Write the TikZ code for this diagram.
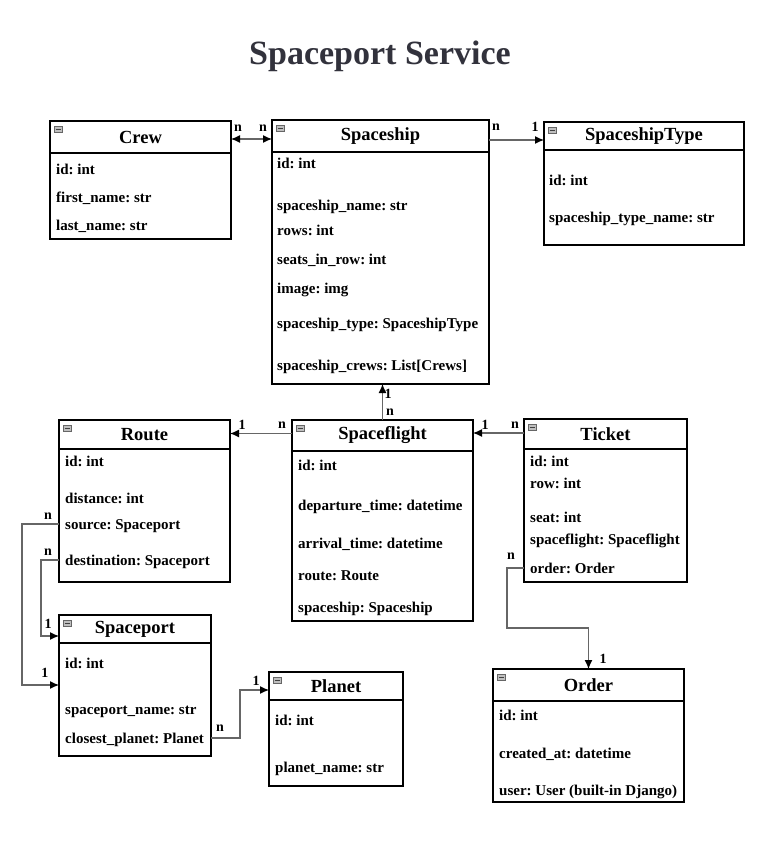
\documentclass[tikz,border=0pt]{standalone}
\usepackage{fontspec}
\setmainfont{Liberation Serif}
\usetikzlibrary{arrows.meta}
\definecolor{titlegray}{RGB}{50,50,60}
\frenchspacing

\begin{document}
\begin{tikzpicture}[x=1pt,y=-1pt]

  \tikzstyle{hdr} = [draw,fill=white,inner sep=0pt,outer sep=0pt,font=\fontsize{18.5}{20}\selectfont\bfseries]
  \tikzstyle{body} = [draw,inner sep=0pt,outer sep=0pt]
  \tikzstyle{fld} = [anchor=base west,inner sep=0pt,font=\fontsize{15}{17}\selectfont\bfseries]
  \tikzstyle{card} = [inner sep=0pt,font=\fontsize{14}{16}\selectfont\bfseries]
  \tikzstyle{icon} = [draw=black!60,fill=black!25,line width=0.5pt,minimum width=8pt,minimum height=6pt,inner sep=0pt,
    path picture={\draw[black!75,line width=1pt] (path picture bounding box.west) ++(1.5pt,0) -- ++(5pt,0);}]
  \tikzstyle{conn} = [draw=black!60,line width=1.2pt,>={Latex[length=9pt,width=8pt,color=black]},->]

  \useasboundingbox (0,0) rectangle (780,841);

  \node[font=\fontsize{34}{40}\selectfont\bfseries,text=titlegray] (title) at (380,56) {Spaceport Service};

  \foreach \n/\t/\xa/\xb/\ya/\yh/\yb/\lw in {crew/Crew/50/231/121/153/239/1.4, spaceship/Spaceship/272/489/120/152/384/1.4,
      type/SpaceshipType/544/744/122/150/245/1.4, route/Route/59/230/420/449/582/1.4,
      flight/Spaceflight/292/473/420/451/621/1.4, ticket/Ticket/524/687/419/449/582/2.4,
      port/Spaceport/59/211/615/643/756/1.4, planet/Planet/269/403/672/700/786/1.4,
      order/Order/493/684/669/701/802/1.4} {

    \node[body,line width=\lw pt,minimum width={(\xb-\xa)*1pt},minimum height={(\yb-\yh)*1pt}] (\n B) at ({(\xa+\xb)/2},{(\yh+\yb)/2}) {};
    \node[hdr,line width=\lw pt,minimum width={(\xb-\xa)*1pt},minimum height={(\yh-\ya)*1pt}] (\n H) at ({(\xa+\xb)/2},{(\ya+\yh)/2}) {\t};
    \node[icon] (\n I) at (\xa+8,\ya+8) {};
}

  \foreach \y/\f [count=\i] in {169/id: int, 197/first\_name: str, 225/last\_name: str}
    \node[fld] (crew\i) at (56,\y+5) {\f};
  \foreach \y/\f [count=\i] in {163/id: int, 205/spaceship\_name: str, 230/rows: int, 259/seats\_in\_row: int,
      288/image: img, 323/spaceship\_type: SpaceshipType, 365/spaceship\_crews: List[Crews]}
    \node[fld] (spaceship\i) at (277,\y+5) {\f};
  \foreach \y/\f [count=\i] in {180/id: int, 217/spaceship\_type\_name: str}
    \node[fld] (type\i) at (549,\y+5) {\f};
  \foreach \y/\f [count=\i] in {461/id: int, 498/distance: int, 524/source: Spaceport, 560/destination: Spaceport}
    \node[fld] (route\i) at (65,\y+5) {\f};
  \foreach \y/\f [count=\i] in {465/id: int, 505/departure\_time: datetime, 543/arrival\_time: datetime,
      575/route: Route, 607/spaceship: Spaceship}
    \node[fld] (flight\i) at (298,\y+5) {\f};
  \foreach \y/\f [count=\i] in {461/id: int, 483/row: int, 517/seat: int, 539/spaceflight: Spaceflight, 568/order: Order}
    \node[fld] (ticket\i) at (530,\y+5) {\f};
  \foreach \y/\f [count=\i] in {663/id: int, 709/spaceport\_name: str, 738/closest\_planet: Planet}
    \node[fld] (port\i) at (65,\y+5) {\f};
  \foreach \y/\f [count=\i] in {720/id: int, 767/planet\_name: str}
    \node[fld] (planet\i) at (275,\y+5) {\f};
  \foreach \y/\f [count=\i] in {715/id: int, 753/created\_at: datetime, 790/user: User (built-in Django)}
    \node[fld] (order\i) at (499,\y+5) {\f};

  % relations
  \draw[conn,<->] ([yshift=-2pt]crewH.east) -- ([yshift=-2pt]crewH.east -| spaceshipH.west);
  \draw[conn] ([yshift=-4pt]spaceshipH.east) -- ([yshift=-4pt]spaceshipH.east -| typeH.west);
  \draw[conn] (flightH.north) -- (flightH.north |- spaceshipB.south);
  \draw[conn] ([yshift=2pt]flightH.west) -- ([yshift=2pt]flightH.west -| routeH.east);
  \draw[conn] ([yshift=1pt]ticketH.west) -- ([yshift=1pt]ticketH.west -| flightH.east);
  \draw[conn] ([yshift=5pt]ticket5.base -| ticketB.west) -| ++(-17,60) -| (orderH.north);
  \draw[conn] ([yshift=5pt]route3.base -| routeB.west) -- ++(-37,0) |- ([yshift=14.5pt]portB.west);
  \draw[conn] ([yshift=5pt]route4.base -| routeB.west) -- ++(-18,0) |- ([yshift=-7pt]portH.west);
  \draw[conn] ([yshift=5pt]port3.base -| portB.east) -- ++(29,0) |- ([yshift=-4pt]planetH.west);

  \foreach \x/\y/\t [count=\i] in {238/128/n, 263/128/n, 496/127/n, 535/127/1, 388/394/1, 390/412/n,
      242/425/1, 282/425/n, 485/425/1, 515/425/n, 511/556/n, 603/659/1,
      48/516/n, 45/673/1, 48/552/n, 48/624/1, 220/728/n, 256/681/1}
    \node[card] (card\i) at (\x,\y) {\t};

\end{tikzpicture}
\end{document}
